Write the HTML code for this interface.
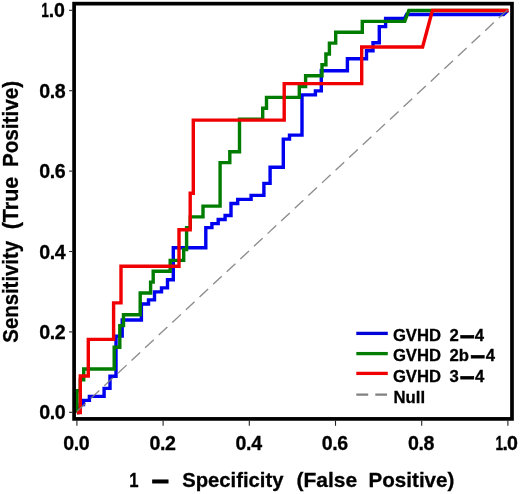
<!DOCTYPE html>
<html lang="en"><head><meta charset="utf-8"><title>ROC curves</title>
<style>
html,body{margin:0;padding:0;background:#fff;}
body{width:520px;height:494px;overflow:hidden;}
svg{display:block;will-change:transform;}
text{font-family:"Liberation Sans",Arial,Helvetica,sans-serif;font-weight:bold;fill:#000;stroke:#000;stroke-width:.3;}
.c{fill:none;stroke-width:3.4;stroke-linejoin:miter;stroke-linecap:butt;}
.tk{stroke:#222;stroke-width:1.1;}
.d{stroke:#000;stroke-width:.9;}
.d2{stroke:#000;stroke-width:1;}
</style></head><body>
<svg width="520" height="494" viewBox="0 0 520 494">
<rect width="520" height="494" fill="#fff"/>
<path class="c" stroke="#0000f0" d="M76.9,412.5 L78.2,412.5 L78.2,408.5 L80.2,408.5 L80.2,404.5 L83.5,404.5 L83.5,400.4 L89.4,400.4 L89.4,396.4 L104.1,396.4 L104.1,388.4 L110,388.4 L110,376.3 L116,376.3 L116,336.1 L122.2,336.1 L122.2,320 L141.4,320 L141.4,304 L148.5,304 L148.5,299.9 L154.5,299.9 L154.5,291.9 L161.5,291.9 L161.5,287.9 L167.5,287.9 L167.5,279.8 L173.3,279.8 L173.3,247.7 L205.8,247.7 L205.8,227.6 L211.9,227.6 L211.9,223.6 L218.2,223.6 L218.2,219.5 L225.1,219.5 L225.1,215.5 L231,215.5 L231,203.5 L237.7,203.5 L237.7,199.4 L251.1,199.4 L251.1,195.4 L263.9,195.4 L263.9,183.4 L270.1,183.4 L270.1,167.3 L283.3,167.3 L283.3,139.1 L289.5,139.1 L289.5,135.1 L302,135.1 L302,94.9 L315.4,94.9 L315.4,90.9 L321.3,90.9 L321.3,70.8 L347.4,70.8 L347.4,58.7 L366.5,58.7 L366.5,50.7 L373,50.7 L373,42.7 L379.3,42.7 L379.3,26.6 L385.6,26.6 L385.6,18.5 L404.5,18.5 L406.5,14.5 L503.5,14.5 L507.9,10.5"/>
<path class="c" stroke="#007d00" d="M76.9,412.5 L77,412.5 L77,390.8 L80.3,390.8 L80.3,379.9 L83.7,379.9 L83.7,369 L114.2,369 L114.2,347.3 L119.8,347.3 L119.8,325.6 L123.5,325.6 L123.5,314.7 L140.2,314.7 L140.2,293 L150.6,293 L150.6,282.1 L153.2,282.1 L153.2,271.3 L170.2,271.3 L170.2,260.4 L183.7,260.4 L183.7,249.5 L186.6,249.5 L186.6,227.8 L190.3,227.8 L190.3,216.9 L203,216.9 L203,206.1 L220.1,206.1 L220.1,162.6 L229.8,162.6 L229.8,151.7 L239.5,151.7 L239.5,119.1 L262.7,119.1 L262.7,108.3 L266.5,108.3 L266.5,97.4 L299.3,97.4 L299.3,86.6 L305.6,86.6 L305.6,75.7 L322,75.7 L322,64.8 L325.9,64.8 L325.9,54 L329.4,54 L329.4,43.1 L335.7,43.1 L335.7,32.2 L362.3,32.2 L362.3,21.4 L404.8,21.4 L408.8,10.5 L507.9,10.5"/>
<path class="c" stroke="#f00000" d="M76.9,412.5 L80.3,412.5 L80.3,376 L88.3,376 L88.3,339.4 L113.6,339.4 L113.6,302.9 L121,302.9 L121,266.3 L179,266.3 L179,229.8 L190.2,229.8 L190.2,193.2 L193.3,193.2 L193.3,120.1 L284.2,120.1 L284.2,83.6 L361.7,83.6 L361.7,47 L422.6,47 L432.4,10.5 L508.6,10.5"/>
<line x1="507.4" y1="9.9" x2="76.4" y2="411.9" stroke="#808080" stroke-opacity=".9" stroke-width="1.35" stroke-dasharray="11.8 6.8"/>
<rect x="74.1" y="3.65" width="437.9" height="415.25" fill="none" stroke="#000" stroke-width="3.7"/>
<line class="tk" x1="76.9" y1="420.6" x2="76.9" y2="425.8"/><line class="tk" x1="69.1" y1="412.3" x2="72.4" y2="412.3"/>
<line class="tk" x1="163.1" y1="420.6" x2="163.1" y2="425.8"/><line class="tk" x1="69.1" y1="331.9" x2="72.4" y2="331.9"/>
<line class="tk" x1="249.3" y1="420.6" x2="249.3" y2="425.8"/><line class="tk" x1="69.1" y1="251.5" x2="72.4" y2="251.5"/>
<line class="tk" x1="335.5" y1="420.6" x2="335.5" y2="425.8"/><line class="tk" x1="69.1" y1="171.1" x2="72.4" y2="171.1"/>
<line class="tk" x1="421.7" y1="420.6" x2="421.7" y2="425.8"/><line class="tk" x1="69.1" y1="90.7" x2="72.4" y2="90.7"/>
<line class="tk" x1="507.9" y1="420.6" x2="507.9" y2="425.8"/><line class="tk" x1="69.1" y1="10.3" x2="72.4" y2="10.3"/>
<text x="63.2" y="449.8" font-size="19.6" letter-spacing="-.4">0.0</text>
<text x="39.2" y="419.3" font-size="19.6" letter-spacing="-.4">0.0</text>
<text x="149.4" y="449.8" font-size="19.6" letter-spacing="-.4">0.2</text>
<text x="39.2" y="338.9" font-size="19.6" letter-spacing="-.4">0.2</text>
<text x="235.6" y="449.8" font-size="19.6" letter-spacing="-.4">0.4</text>
<text x="39.2" y="258.5" font-size="19.6" letter-spacing="-.4">0.4</text>
<text x="321.8" y="449.8" font-size="19.6" letter-spacing="-.4">0.6</text>
<text x="39.2" y="178.1" font-size="19.6" letter-spacing="-.4">0.6</text>
<text x="408.0" y="449.8" font-size="19.6" letter-spacing="-.4">0.8</text>
<text x="39.2" y="97.7" font-size="19.6" letter-spacing="-.4">0.8</text>
<text y="449.8" font-size="19.6"><tspan x="495.6" textLength="7.63" lengthAdjust="spacingAndGlyphs">1</tspan><tspan x="502.6 507.1">.0</tspan></text>
<text y="17.1" font-size="19.6"><tspan x="41.2" textLength="7.63" lengthAdjust="spacingAndGlyphs">1</tspan><tspan x="48.7 54.0">.0</tspan></text>
<text y="486.7" font-size="21"><tspan x="129.3" textLength="9.3" lengthAdjust="spacingAndGlyphs">1</tspan> <tspan class="d2" x="151.7" dy="3" font-size="31">–</tspan> <tspan x="182.2" dy="-3" textLength="101.3" lengthAdjust="spacingAndGlyphs">Specificity</tspan> <tspan x="296.5" textLength="60.7" lengthAdjust="spacingAndGlyphs">(False</tspan> <tspan x="368.5" textLength="85.9" lengthAdjust="spacingAndGlyphs">Positive)</tspan></text>
<text transform="rotate(-90)" y="18" font-size="22"><tspan x="-342.7" textLength="101.8" lengthAdjust="spacingAndGlyphs">Sensitivity</tspan> <tspan x="-229.3" textLength="52.6" lengthAdjust="spacingAndGlyphs">(True</tspan> <tspan x="-167.1" textLength="86.2" lengthAdjust="spacingAndGlyphs">Positive)</tspan></text>
<line x1="356.3" y1="333.4" x2="387.8" y2="333.4" stroke="#0000d8" stroke-width="3.3"/>
<line x1="356.3" y1="353.6" x2="387.8" y2="353.6" stroke="#007d00" stroke-width="3.3"/>
<line x1="356.3" y1="373.4" x2="387.8" y2="373.4" stroke="#f00000" stroke-width="3.3"/>
<path d="M356.3,394.6H368.2M375.3,394.6H387" stroke="#808080" stroke-width="2.1" fill="none"/>
<text y="341" font-size="16.7"><tspan x="392.9">GVHD</tspan> <tspan x="449.5">2</tspan><tspan class="d" x="459.9" dy="2.5" font-size="26">–</tspan><tspan x="474.85" dy="-2.5">4</tspan></text>
<text y="361.4" font-size="16.7"><tspan x="392.9">GVHD</tspan> <tspan x="449.5">2b</tspan><tspan class="d" x="470.55" dy="2.5" font-size="26">–</tspan><tspan x="485.65" dy="-2.5">4</tspan></text>
<text y="382" font-size="16.7"><tspan x="392.9">GVHD</tspan> <tspan x="449.5">3</tspan><tspan class="d" x="459.9" dy="2.5" font-size="26">–</tspan><tspan x="475.05" dy="-2.5">4</tspan></text>
<text x="393.5" y="402.7" font-size="16.7">Null</text>
</svg>
</body></html>
